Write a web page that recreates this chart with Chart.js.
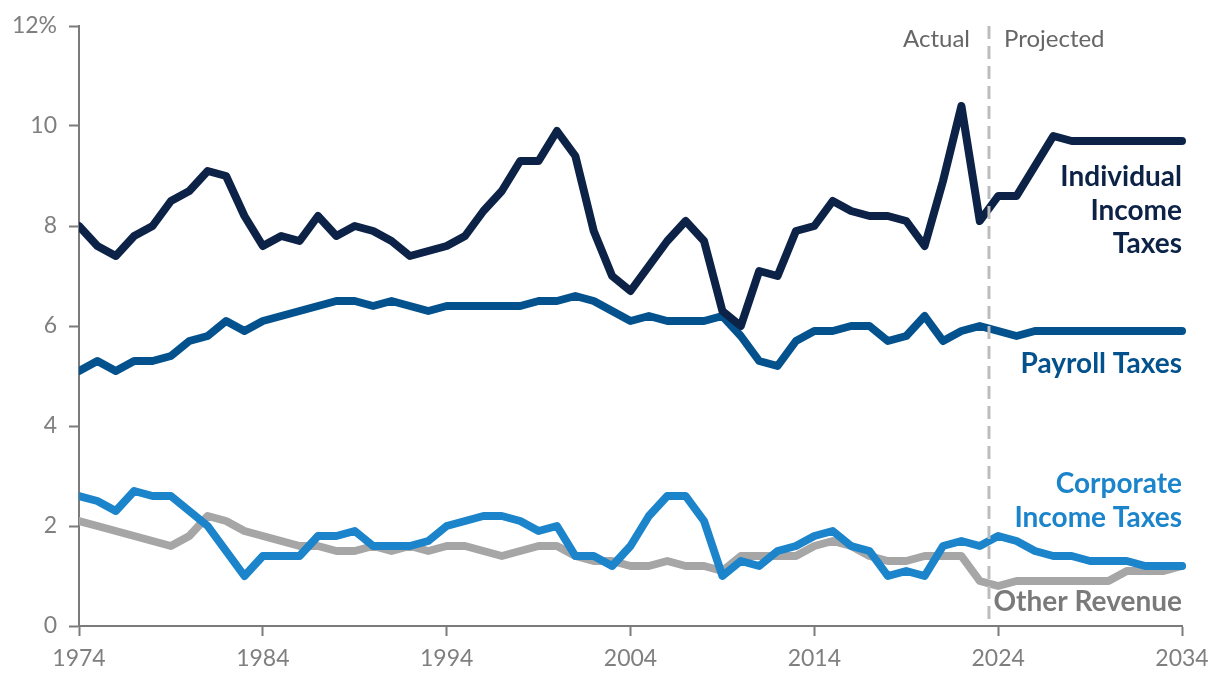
<!DOCTYPE html>
<html>
<head>
<meta charset="utf-8">
<script src="https://cdn.jsdelivr.net/npm/chart.js@4.4.1/dist/chart.umd.min.js"></script>
<style>
  html, body { margin: 0; padding: 0; background: #fff; }
  #wrap { width: 1220px; height: 688px; position: relative; }
</style>
</head>
<body>
<div id="wrap"><canvas id="chart" width="1220" height="688"></canvas></div>
<script>
const years = Array.from({ length: 61 }, (_, i) => 1974 + i);

// share of GDP, 1974-2034
const individualIncome = [
  8.0, 7.6, 7.4, 7.8, 8.0, 8.5, 8.7, 9.1, 9.0, 8.2,
  7.6, 7.8, 7.7, 8.2, 7.8, 8.0, 7.9, 7.7, 7.4, 7.5,
  7.6, 7.8, 8.3, 8.7, 9.3, 9.3, 9.9, 9.4, 7.9, 7.0,
  6.7, 7.2, 7.7, 8.1, 7.7, 6.3, 6.0, 7.1, 7.0, 7.9,
  8.0, 8.5, 8.3, 8.2, 8.2, 8.1, 7.6, 8.9, 10.4, 8.1,
  8.6, 8.6, 9.2, 9.8, 9.7, 9.7, 9.7, 9.7, 9.7, 9.7, 9.7
];
const payroll = [
  5.1, 5.3, 5.1, 5.3, 5.3, 5.4, 5.7, 5.8, 6.1, 5.9,
  6.1, 6.2, 6.3, 6.4, 6.5, 6.5, 6.4, 6.5, 6.4, 6.3,
  6.4, 6.4, 6.4, 6.4, 6.4, 6.5, 6.5, 6.6, 6.5, 6.3,
  6.1, 6.2, 6.1, 6.1, 6.1, 6.2, 5.8, 5.3, 5.2, 5.7,
  5.9, 5.9, 6.0, 6.0, 5.7, 5.8, 6.2, 5.7, 5.9, 6.0,
  5.9, 5.8, 5.9, 5.9, 5.9, 5.9, 5.9, 5.9, 5.9, 5.9, 5.9
];
const corporate = [
  2.6, 2.5, 2.3, 2.7, 2.6, 2.6, 2.3, 2.0, 1.5, 1.0,
  1.4, 1.4, 1.4, 1.8, 1.8, 1.9, 1.6, 1.6, 1.6, 1.7,
  2.0, 2.1, 2.2, 2.2, 2.1, 1.9, 2.0, 1.4, 1.4, 1.2,
  1.6, 2.2, 2.6, 2.6, 2.1, 1.0, 1.3, 1.2, 1.5, 1.6,
  1.8, 1.9, 1.6, 1.5, 1.0, 1.1, 1.0, 1.6, 1.7, 1.6,
  1.8, 1.7, 1.5, 1.4, 1.4, 1.3, 1.3, 1.3, 1.2, 1.2, 1.2
];
const otherRevenue = [
  2.1, 2.0, 1.9, 1.8, 1.7, 1.6, 1.8, 2.2, 2.1, 1.9,
  1.8, 1.7, 1.6, 1.6, 1.5, 1.5, 1.6, 1.5, 1.6, 1.5,
  1.6, 1.6, 1.5, 1.4, 1.5, 1.6, 1.6, 1.4, 1.3, 1.3,
  1.2, 1.2, 1.3, 1.2, 1.2, 1.1, 1.4, 1.4, 1.4, 1.4,
  1.6, 1.7, 1.6, 1.4, 1.3, 1.3, 1.4, 1.4, 1.4, 0.9,
  0.8, 0.9, 0.9, 0.9, 0.9, 0.9, 0.9, 1.1, 1.1, 1.1, 1.2
];

const splitYear = 2023.5;
const yTicks = [0, 2, 4, 6, 8, 10, 12];
const xTicks = [1974, 1984, 1994, 2004, 2014, 2024, 2034];

const FONT = 'Lato, "Open Sans", sans-serif';
const axisGray = '#7b7b7b';

function toPoints(values) {
  return values.map((v, i) => ({ x: years[i], y: v }));
}

function serie(label, values, color) {
  return {
    label: label,
    data: toPoints(values),
    borderColor: color,
    backgroundColor: color,
    borderWidth: 8,
    pointRadius: 0,
    tension: 0,
    borderCapStyle: 'round',
    borderJoinStyle: 'round',
    clip: { left: 0, top: false, right: false, bottom: false }
  };
}

const labelsPlugin = {
  id: 'labels',
  afterDatasetsDraw(chart) {
    const { ctx, chartArea, scales } = chart;
    const xs = scales.x.getPixelForValue(splitYear);

    // actual / projected divider
    ctx.save();
    ctx.strokeStyle = '#bdbdbd';
    ctx.lineWidth = 3;
    ctx.setLineDash([13, 7]);
    ctx.beginPath();
    ctx.moveTo(xs, chartArea.top);
    ctx.lineTo(xs, chartArea.bottom);
    ctx.stroke();
    ctx.restore();

    ctx.save();
    ctx.font = '24px ' + FONT;
    ctx.fillStyle = '#666666';
    ctx.textBaseline = 'alphabetic';
    ctx.textAlign = 'right';
    ctx.fillText('Actual', xs - 19, 47);
    ctx.textAlign = 'left';
    ctx.fillText('Projected', xs + 15, 47);

    const right = chartArea.right;
    ctx.textAlign = 'right';
    ctx.font = 'bold 28px ' + FONT;
    ctx.fillStyle = '#0c2246';
    ctx.fillText('Individual', right, 186);
    ctx.fillText('Income', right, 220);
    ctx.fillText('Taxes', right, 253);
    ctx.fillStyle = '#04528d';
    ctx.fillText('Payroll Taxes', right, 373);
    ctx.fillStyle = '#1b84cb';
    ctx.fillText('Corporate', right, 493);
    ctx.fillText('Income Taxes', right, 527);
    ctx.fillStyle = '#7a7a7a';
    ctx.fillText('Other Revenue', right, 611);
    ctx.restore();
  }
};

const ctx = document.getElementById('chart').getContext('2d');
new Chart(ctx, {
  type: 'line',
  data: {
    datasets: [
      serie('Individual Income Taxes', individualIncome, '#0c2246'),
      serie('Payroll Taxes', payroll, '#04528d'),
      serie('Corporate Income Taxes', corporate, '#1b84cb'),
      serie('Other Revenue', otherRevenue, '#a6a6a6')
    ]
  },
  options: {
    responsive: false,
    animation: false,
    devicePixelRatio: 1,
    layout: { padding: { top: 26, right: 38, bottom: 0, left: 0 } },
    plugins: {
      legend: { display: false },
      tooltip: { enabled: false }
    },
    scales: {
      x: {
        type: 'linear',
        min: 1974,
        max: 2034,
        afterFit(scale) { scale.height = 62; },
        afterBuildTicks(scale) { scale.ticks = xTicks.map(v => ({ value: v })); },
        border: { display: true, color: axisGray, width: 2 },
        grid: { display: true, drawOnChartArea: false, drawTicks: true, tickLength: 10, tickWidth: 2, tickColor: axisGray },
        ticks: {
          font: { family: FONT, size: 23 },
          color: '#7f7f7f',
          padding: 9,
          maxRotation: 0,
          callback: v => String(v)
        }
      },
      y: {
        min: 0,
        max: 12,
        afterFit(scale) { scale.width = 79; },
        afterBuildTicks(scale) { scale.ticks = yTicks.map(v => ({ value: v })); },
        border: { display: true, color: axisGray, width: 2 },
        grid: { display: true, drawOnChartArea: false, drawTicks: true, tickLength: 10, tickWidth: 2, tickColor: axisGray },
        ticks: {
          font: { family: FONT, size: 23 },
          color: '#7f7f7f',
          padding: 12,
          callback: v => (v === 12 ? '12%' : String(v))
        }
      }
    }
  },
  plugins: [labelsPlugin]
});
</script>
</body>
</html>
